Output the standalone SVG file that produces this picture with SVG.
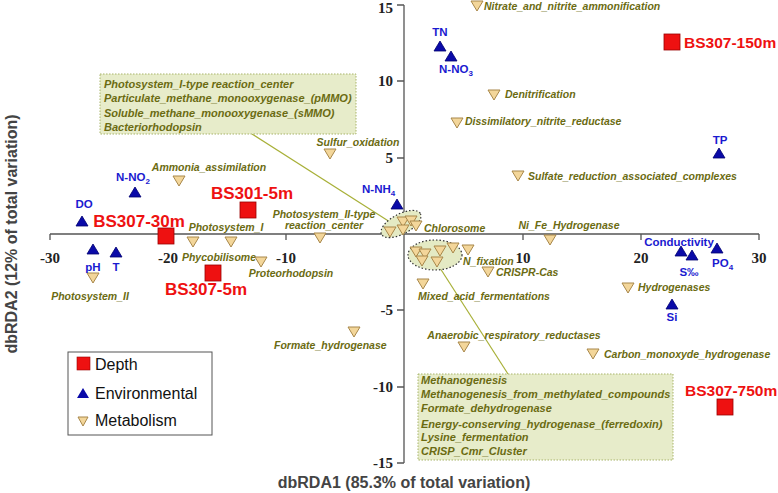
<svg xmlns="http://www.w3.org/2000/svg" width="778" height="493" viewBox="0 0 778 493">
<style>
.ax{stroke:#555;stroke-width:1.3;fill:none}
.tk{font-family:"Liberation Serif",serif;font-weight:bold;font-size:15px;fill:#222}
.m{font-family:"Liberation Sans",Arial,sans-serif;font-weight:bold;font-style:italic;font-size:10.5px;fill:#6b6b12}
.bx{font-size:11px}
.e{font-family:"Liberation Sans",Arial,sans-serif;font-weight:bold;font-size:11.5px;fill:#1a1ad0}
.d{font-family:"Liberation Sans",Arial,sans-serif;font-weight:bold;font-size:17px;fill:#ee1111}
.d2{font-size:15.5px}
.lg{font-family:"Liberation Sans",Arial,sans-serif;font-size:16px;fill:#111}
.tt{font-family:"Liberation Sans",Arial,sans-serif;font-weight:bold;font-size:16px;fill:#444}
.box{fill:#e7ecca;stroke:#a8b46a;stroke-width:1;stroke-dasharray:1.5 1.5}
.ell{fill:#e4eac4;stroke:#333;stroke-width:1.2;stroke-dasharray:1.5 2}
.lead{stroke:#a8b038;stroke-width:1.2;fill:none}
</style>
<defs>
<path id="dn" d="M-6,-5 L6,-5 L0,5 Z" fill="#f3d69a" stroke="#a8874a" stroke-width="1"/>
<path id="up" d="M-6,5 L6,5 L0,-5 Z" fill="#0a0aa8" stroke="#000070" stroke-width="0.8"/>
<rect id="sq" x="-8" y="-8" width="16" height="16" fill="#ee1111" stroke="#990000" stroke-width="0.8"/>
</defs>
<rect width="778" height="493" fill="#fff"/>
<g id="axes">
<path class="ax" d="M50,234 H759 M404,5 V463"/>
<path class="ax" d="M50,234 v6 M168,234 v6 M286,234 v6 M523,234 v6 M641,234 v6 M759,234 v6 M404,5 h-7 M404,81 h-7 M404,158 h-7 M404,310 h-7 M404,387 h-7 M404,463 h-7"/>
<g class="tk" text-anchor="middle">
<text x="50" y="263">-30</text><text x="168" y="263">-20</text><text x="286" y="263">-10</text>
<text x="523" y="263">10</text><text x="641" y="263">20</text><text x="759" y="263">30</text>
</g>
<g class="tk" text-anchor="end">
<text x="393" y="13">15</text><text x="393" y="86">10</text><text x="393" y="163">5</text>
<text x="393" y="315">-5</text><text x="393" y="392">-10</text><text x="393" y="468">-15</text>
</g>
<text class="tt" x="404" y="488" text-anchor="middle">dbRDA1 (85.3% of total variation)</text>
<text class="tt" transform="translate(17,234) rotate(-90)" text-anchor="middle">dbRDA2 (12% of total variation)</text>
</g>
<g id="connectors">
<path class="lead" d="M252,134 L390,222"/>
<path class="lead" d="M508,374 L440,268"/>
</g>
<g id="box-top"><rect class="box" x="100" y="74" width="256" height="60"/>
<text class="m bx" x="104" y="88">Photosystem_I-type reaction_center</text>
<text class="m bx" x="104" y="102">Particulate_methane_monooxygenase_(pMMO)</text>
<text class="m bx" x="104" y="117">Soluble_methane_monooxygenase_(sMMO)</text>
<text class="m bx" x="104" y="131">Bacteriorhodopsin</text></g>
<g id="box-bottom"><rect class="box" x="418" y="374" width="255" height="86"/>
<text class="m bx" x="421" y="384">Methanogenesis</text>
<text class="m bx" x="421" y="398">Methanogenesis_from_methylated_compounds</text>
<text class="m bx" x="421" y="412">Formate_dehydrogenase</text>
<text class="m bx" x="421" y="428">Energy-conserving_hydrogenase_(ferredoxin)</text>
<text class="m bx" x="421" y="441">Lysine_fermentation</text>
<text class="m bx" x="421" y="455">CRISP_Cmr_Cluster</text></g>
<g id="cluster-chlorosome"><ellipse class="ell" cx="401" cy="224" rx="22" ry="10" transform="rotate(-28 401 224)"/>
<use href="#dn" x="390" y="232"/><use href="#dn" x="403" y="222"/><use href="#dn" x="411" y="221"/><use href="#dn" x="403" y="230"/><use href="#dn" x="416" y="226"/>
<text class="m" x="424" y="232">Chlorosome</text></g>
<g id="cluster-nfix"><ellipse class="ell" cx="435" cy="255" rx="27" ry="15"/>
<use href="#dn" x="416" y="252"/><use href="#dn" x="425" y="254"/><use href="#dn" x="440" y="251"/><use href="#dn" x="453" y="248"/><use href="#dn" x="422" y="261"/><use href="#dn" x="437" y="262"/><use href="#dn" x="468" y="250"/>
<text class="m" x="463" y="265">N_fixation</text></g>
<g id="metabolism">
<g id="m1"><use href="#dn" x="477" y="6"/><text class="m" x="484" y="10">Nitrate_and_nitrite_ammonification</text></g>
<g id="m2"><use href="#dn" x="494" y="95"/><text class="m" x="505" y="98">Denitrification</text></g>
<g id="m3"><use href="#dn" x="457" y="123"/><text class="m" x="465" y="125">Dissimilatory_nitrite_reductase</text></g>
<g id="m4"><use href="#dn" x="518" y="176"/><text class="m" x="528" y="180">Sulfate_reduction_associated_complexes</text></g>
<g id="m5"><use href="#dn" x="330" y="154"/><text class="m" x="358" y="146" text-anchor="middle">Sulfur_oxidation</text></g>
<g id="m6"><use href="#dn" x="179" y="181"/><text class="m" x="209" y="171" text-anchor="middle">Ammonia_assimilation</text></g>
<g id="m7"><use href="#dn" x="193" y="242"/><use href="#dn" x="231" y="242"/><text class="m" x="226" y="231" text-anchor="middle">Photosystem_I</text></g>
<g id="m8"><text class="m" x="219" y="261" text-anchor="middle">Phycobilisome</text></g>
<g id="m9"><use href="#dn" x="261" y="262"/><text class="m" x="291" y="277" text-anchor="middle">Proteorhodopsin</text></g>
<g id="m10"><use href="#dn" x="93" y="278"/><text class="m" x="90" y="300" text-anchor="middle">Photosystem_II</text></g>
<g id="m11"><use href="#dn" x="320" y="238"/><text class="m" x="324" y="218" text-anchor="middle">Photosystem_II-type</text><text class="m" x="324" y="229" text-anchor="middle">reaction_center</text></g>
<g id="m12"><use href="#dn" x="488" y="272"/><text class="m" x="496" y="276">CRISPR-Cas</text></g>
<g id="m13"><use href="#dn" x="550" y="240"/><text class="m" x="569" y="229" text-anchor="middle">Ni_Fe_Hydrogenase</text></g>
<g id="m14"><use href="#dn" x="628" y="288"/><text class="m" x="638" y="291">Hydrogenases</text></g>
<g id="m15"><use href="#dn" x="423" y="284"/><text class="m" x="484" y="300" text-anchor="middle">Mixed_acid_fermentations</text></g>
<g id="m16"><use href="#dn" x="464" y="347"/><text class="m" x="514" y="339" text-anchor="middle">Anaerobic_respiratory_reductases</text></g>
<g id="m17"><use href="#dn" x="593" y="354"/><text class="m" x="604" y="358">Carbon_monoxyde_hydrogenase</text></g>
<g id="m18"><use href="#dn" x="354" y="332"/><text class="m" x="274" y="349">Formate_hydrogenase</text></g>
</g>
<g id="environmental">
<g id="e-TN"><use href="#up" x="440" y="46"/><text class="e" x="440" y="36" text-anchor="middle">TN</text></g>
<g id="e-NO3"><use href="#up" x="451" y="56"/><text class="e" x="439" y="73">N-NO<tspan font-size="8" dy="3">3</tspan></text></g>
<g id="e-TP"><use href="#up" x="719" y="153"/><text class="e" x="720" y="144" text-anchor="middle">TP</text></g>
<g id="e-NH4"><use href="#up" x="397" y="204"/><text class="e" x="362" y="193">N-NH<tspan font-size="8" dy="3">4</tspan></text></g>
<g id="e-DO"><use href="#up" x="82" y="221"/><text class="e" x="84" y="208" text-anchor="middle">DO</text></g>
<g id="e-NO2"><use href="#up" x="135" y="192"/><text class="e" x="116" y="181">N-NO<tspan font-size="8" dy="3">2</tspan></text></g>
<g id="e-pH"><use href="#up" x="93" y="249"/><text class="e" x="93" y="271" text-anchor="middle">pH</text></g>
<g id="e-T"><use href="#up" x="116" y="252"/><text class="e" x="116" y="271" text-anchor="middle">T</text></g>
<g id="e-cond"><use href="#up" x="681" y="251"/><text class="e" x="679" y="246" text-anchor="middle">Conductivity</text></g>
<g id="e-S"><use href="#up" x="692" y="255"/><text class="e" x="689" y="276" text-anchor="middle">S‰</text></g>
<g id="e-PO4"><use href="#up" x="717" y="248"/><text class="e" x="712" y="267">PO<tspan font-size="8" dy="3">4</tspan></text></g>
<g id="e-Si"><use href="#up" x="672" y="304"/><text class="e" x="672" y="321" text-anchor="middle">Si</text></g>
</g>
<g id="depth">
<g id="d-150"><use href="#sq" x="672" y="42"/><text class="d d2" x="684" y="48">BS307-150m</text></g>
<g id="d-301"><use href="#sq" x="248" y="210"/><text class="d" x="252" y="199" text-anchor="middle">BS301-5m</text></g>
<g id="d-30"><use href="#sq" x="166" y="236"/><text class="d" x="139" y="227" text-anchor="middle">BS307-30m</text></g>
<g id="d-5"><use href="#sq" x="213" y="273"/><text class="d" x="206" y="295" text-anchor="middle">BS307-5m</text></g>
<g id="d-750"><use href="#sq" x="725" y="407"/><text class="d d2" x="685" y="396">BS307-750m</text></g>
</g>
<g id="legend">
<rect x="68" y="352" width="144" height="83" fill="#fff" stroke="#555" stroke-width="1"/>
<rect x="77" y="357" width="13" height="13" fill="#ee1111" stroke="#990000" stroke-width="0.6"/>
<text class="lg" x="95" y="370">Depth</text>
<path d="M77,398 L89,398 L83,388 Z" fill="#0a0aa8"/>
<text class="lg" x="95" y="399">Environmental</text>
<path d="M78,417 L88,417 L83,426 Z" fill="#f3d69a" stroke="#a8874a"/>
<text class="lg" x="95" y="426">Metabolism</text>
</g>
</svg>
